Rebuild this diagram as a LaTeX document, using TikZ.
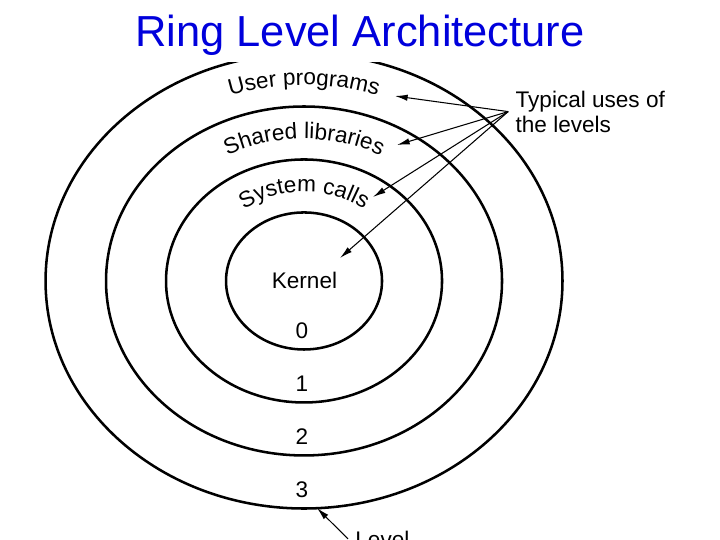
\documentclass[tikz,border=0pt]{standalone}
\usepackage{fontspec}
\setmainfont{Liberation Sans}
\usetikzlibrary{arrows.meta,decorations.text}
\definecolor{titleblue}{RGB}{0,0,220}
\newcommand\ringfont{\fontsize{10.7}{12}\selectfont}

\begin{document}
\begin{tikzpicture}[font=\ringfont, >={Latex[length=6pt,width=3pt]},
      ring/.style={draw, line width=1.2pt},
      usage/.style={->, line width=0.5pt},
      along/.style={decorate, decoration={text along path, text align=center, text={|\ringfont|#1}}}]
    \useasboundingbox (0,0) rectangle (12,9);
    \coordinate (ctr) at (5.067,4.317);
    \draw[ring] (ctr) ellipse[x radius=4.308, y radius=3.792];
    \draw[ring] (ctr) ellipse[x radius=3.3, y radius=2.908];
    \draw[ring] (ctr) ellipse[x radius=2.3, y radius=2.025];
    \draw[ring] (ctr) ellipse[x radius=1.3, y radius=1.142];
    \node[fill=white, text=titleblue, font=\fontsize{20.6}{24}\selectfont, inner ysep=3pt, anchor=base] (title) at (6,8.217) {Ring Level Architecture};
    % ring labels, written along the bands
    \path[along={User programs}] (ctr) ++(165:3.75 and 3.267) arc[start angle=165, end angle=15, x radius=3.75, y radius=3.267];
    \path[along={Shared libraries}] (ctr) ++(165:2.72 and 2.367) arc[start angle=165, end angle=15, x radius=2.72, y radius=2.367];
    \path[along={System calls}] (ctr) ++(170:1.69 and 1.483) arc[start angle=170, end angle=10, x radius=1.69, y radius=1.483];
    \node (kernel) at (5.075,4.333) {Kernel};
    \node (lv0) at (5.033,3.483) {0};
    \node (lv1) at (5.033,2.6) {1};
    \node (lv2) at (5.033,1.717) {2};
    \node (lv3) at (5.033,0.833) {3};
    \node[align=left, anchor=west] (uses) at (8.47,7.14) {Typical uses of\\the levels};
    \coordinate (tipuser) at (6.583,7.4);
    \coordinate (tipshared) at (6.617,6.583);
    \coordinate (tipcalls) at (6.217,5.717);
    \coordinate (tipkernel) at (5.667,4.7);
    \draw[usage] (uses.west) -- (tipuser);
    \draw[usage] (uses.west) -- (tipshared);
    \draw[usage] (uses.west) -- (tipcalls);
    \draw[usage] (uses.west) -- (tipkernel);
    \node[anchor=base west] (lvl) at (5.8,-0.117) {Level};
    \coordinate (tiplevel) at (5.283,0.533);
    \draw[usage] (lvl.west) -- (tiplevel);
  \end{tikzpicture}
\end{document}
